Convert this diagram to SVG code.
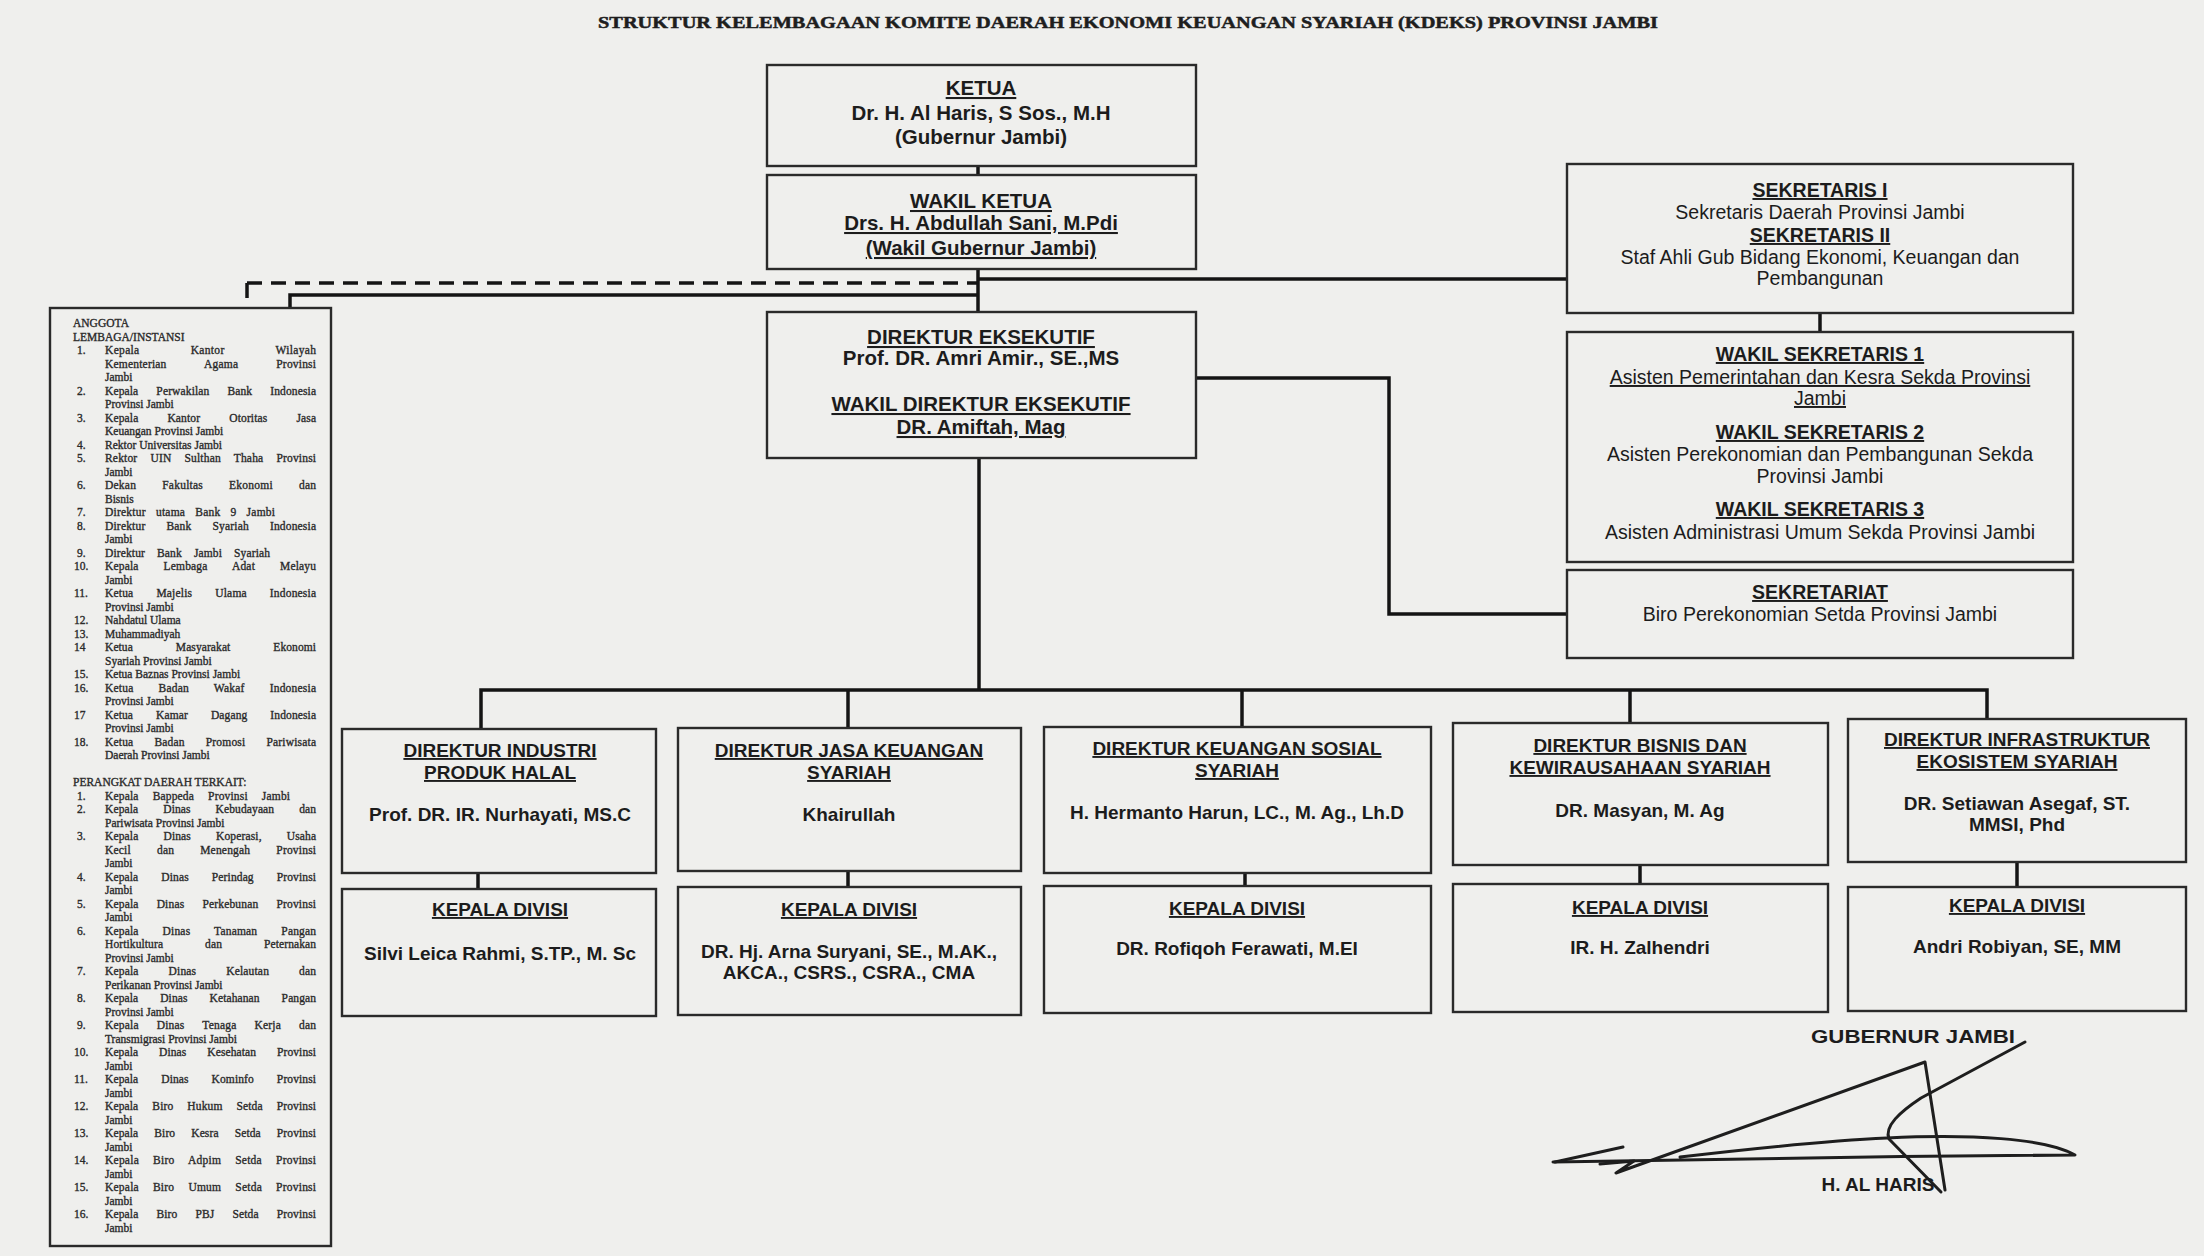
<svg xmlns="http://www.w3.org/2000/svg" width="2204" height="1256" viewBox="0 0 2204 1256">
<style>
.bx{fill:none;stroke:#2a2a2a;stroke-width:2.4}
.ln{fill:none;stroke:#141414;stroke-width:3.5}
.t{font-family:"Liberation Sans",Arial,sans-serif;fill:#1c1c1c;text-anchor:middle}
.hb{font-size:20.5px;font-weight:bold}
.r{font-size:19.5px}
.rb{font-size:19.5px;font-weight:bold}
.d{font-size:19px;font-weight:bold}
.u{text-decoration:underline}
.l{font-family:"Liberation Serif","Times New Roman",serif;font-size:11.5px;fill:#222;stroke:#333;stroke-width:0.35}
.title{font-family:"Liberation Serif","Times New Roman",serif;font-size:16.5px;font-weight:bold;fill:#1e1e1e;stroke:#1e1e1e;stroke-width:0.5}
.sig{fill:none;stroke:#1e1e1e;stroke-width:3;stroke-linecap:round;stroke-linejoin:round}
</style>
<rect x="0" y="0" width="2204" height="1256" fill="#efefed"/>
<text class="title" x="598" y="28" textLength="1060" lengthAdjust="spacingAndGlyphs">STRUKTUR KELEMBAGAAN KOMITE DAERAH EKONOMI KEUANGAN SYARIAH (KDEKS) PROVINSI JAMBI</text>

<g id="connectors">
<path class="ln" d="M978,166 V175"/>
<path class="ln" d="M978,269 V312"/>
<path class="ln" d="M247,283 H978" stroke-dasharray="15 9"/>
<path class="ln" d="M247,283 V298"/>
<path class="ln" d="M290,308 V295 H978"/>
<path class="ln" d="M978,279 H1567"/>
<path class="ln" d="M1196,378 H1389 V614 H1567"/>
<path class="ln" d="M1820,313 V332"/>
<path class="ln" d="M979,458 V690"/>
<path class="ln" d="M481,729 V690 H1987 V719"/>
<path class="ln" d="M848,690 V728"/>
<path class="ln" d="M1242,690 V727"/>
<path class="ln" d="M1630,690 V723"/>
<path class="ln" d="M478,873 V889"/>
<path class="ln" d="M848,871 V887"/>
<path class="ln" d="M1245,873 V886"/>
<path class="ln" d="M1640,865 V884"/>
<path class="ln" d="M2017,862 V887"/>
</g>

<g id="ketua">
<rect class="bx" x="767" y="65" width="429" height="101"/>
<text class="t hb u" x="981" y="95">KETUA</text>
<text class="t hb" x="981" y="120">Dr. H. Al Haris, S Sos., M.H</text>
<text class="t hb" x="981" y="144">(Gubernur Jambi)</text>
</g>

<g id="wakil-ketua">
<rect class="bx" x="767" y="175" width="429" height="94"/>
<text class="t hb u" x="981" y="208">WAKIL KETUA</text>
<text class="t hb u" x="981" y="230">Drs. H. Abdullah Sani, M.Pdi</text>
<text class="t hb u" x="981" y="255">(Wakil Gubernur Jambi)</text>
</g>

<g id="direktur-eksekutif">
<rect class="bx" x="767" y="312" width="429" height="146"/>
<text class="t hb u" x="981" y="344">DIREKTUR EKSEKUTIF</text>
<text class="t hb" x="981" y="365">Prof. DR. Amri Amir., SE.,MS</text>
<text class="t hb u" x="981" y="411">WAKIL DIREKTUR EKSEKUTIF</text>
<text class="t hb u" x="981" y="434">DR. Amiftah, Mag</text>
</g>

<g id="sekretaris">
<rect class="bx" x="1567" y="164" width="506" height="149"/>
<text class="t rb u" x="1820" y="197">SEKRETARIS I</text>
<text class="t r" x="1820" y="219">Sekretaris Daerah Provinsi Jambi</text>
<text class="t rb u" x="1820" y="242">SEKRETARIS II</text>
<text class="t r" x="1820" y="264">Staf Ahli Gub Bidang Ekonomi, Keuangan dan</text>
<text class="t r" x="1820" y="285">Pembangunan</text>
</g>

<g id="wakil-sekretaris">
<rect class="bx" x="1567" y="332" width="506" height="230"/>
<text class="t rb u" x="1820" y="361">WAKIL SEKRETARIS 1</text>
<text class="t r u" x="1820" y="384">Asisten Pemerintahan dan Kesra Sekda Provinsi</text>
<text class="t r u" x="1820" y="405">Jambi</text>
<text class="t rb u" x="1820" y="439">WAKIL SEKRETARIS 2</text>
<text class="t r" x="1820" y="461">Asisten Perekonomian dan Pembangunan Sekda</text>
<text class="t r" x="1820" y="483">Provinsi Jambi</text>
<text class="t rb u" x="1820" y="516">WAKIL SEKRETARIS 3</text>
<text class="t r" x="1820" y="539">Asisten Administrasi Umum Sekda Provinsi Jambi</text>
</g>

<g id="sekretariat">
<rect class="bx" x="1567" y="570" width="506" height="88"/>
<text class="t rb u" x="1820" y="599">SEKRETARIAT</text>
<text class="t r" x="1820" y="621">Biro Perekonomian Setda Provinsi Jambi</text>
</g>

<g id="dir-industri">
<rect class="bx" x="342" y="729" width="314" height="144"/>
<text class="t d u" x="500" y="757">DIREKTUR INDUSTRI</text>
<text class="t d u" x="500" y="779">PRODUK HALAL</text>
<text class="t d" x="500" y="821">Prof. DR. IR. Nurhayati, MS.C</text>
</g>
<g id="kadiv-industri">
<rect class="bx" x="342" y="889" width="314" height="127"/>
<text class="t d u" x="500" y="916">KEPALA DIVISI</text>
<text class="t d" x="500" y="960">Silvi Leica Rahmi, S.TP., M. Sc</text>
</g>

<g id="dir-jasa">
<rect class="bx" x="678" y="728" width="343" height="143"/>
<text class="t d u" x="849" y="757">DIREKTUR JASA KEUANGAN</text>
<text class="t d u" x="849" y="779">SYARIAH</text>
<text class="t d" x="849" y="821">Khairullah</text>
</g>
<g id="kadiv-jasa">
<rect class="bx" x="678" y="887" width="343" height="128"/>
<text class="t d u" x="849" y="916">KEPALA DIVISI</text>
<text class="t d" x="849" y="958">DR. Hj. Arna Suryani, SE., M.AK.,</text>
<text class="t d" x="849" y="979">AKCA., CSRS., CSRA., CMA</text>
</g>

<g id="dir-sosial">
<rect class="bx" x="1044" y="727" width="387" height="146"/>
<text class="t d u" x="1237" y="755">DIREKTUR KEUANGAN SOSIAL</text>
<text class="t d u" x="1237" y="777">SYARIAH</text>
<text class="t d" x="1237" y="819">H. Hermanto Harun, LC., M. Ag., Lh.D</text>
</g>
<g id="kadiv-sosial">
<rect class="bx" x="1044" y="886" width="387" height="127"/>
<text class="t d u" x="1237" y="915">KEPALA DIVISI</text>
<text class="t d" x="1237" y="955">DR. Rofiqoh Ferawati, M.EI</text>
</g>

<g id="dir-bisnis">
<rect class="bx" x="1453" y="723" width="375" height="142"/>
<text class="t d u" x="1640" y="752">DIREKTUR BISNIS DAN</text>
<text class="t d u" x="1640" y="774">KEWIRAUSAHAAN SYARIAH</text>
<text class="t d" x="1640" y="817">DR. Masyan, M. Ag</text>
</g>
<g id="kadiv-bisnis">
<rect class="bx" x="1453" y="884" width="375" height="128"/>
<text class="t d u" x="1640" y="914">KEPALA DIVISI</text>
<text class="t d" x="1640" y="954">IR. H. Zalhendri</text>
</g>

<g id="dir-infrastruktur">
<rect class="bx" x="1848" y="719" width="338" height="143"/>
<text class="t d u" x="2017" y="746">DIREKTUR INFRASTRUKTUR</text>
<text class="t d u" x="2017" y="768">EKOSISTEM SYARIAH</text>
<text class="t d" x="2017" y="810">DR. Setiawan Asegaf, ST.</text>
<text class="t d" x="2017" y="831">MMSI, Phd</text>
</g>
<g id="kadiv-infrastruktur">
<rect class="bx" x="1848" y="887" width="338" height="124"/>
<text class="t d u" x="2017" y="912">KEPALA DIVISI</text>
<text class="t d" x="2017" y="953">Andri Robiyan, SE, MM</text>
</g>

<g id="anggota">
<rect class="bx" x="50" y="308" width="281" height="938"/>
<text class="l" x="73" y="327">ANGGOTA</text>
<text class="l" x="73" y="340.5">LEMBAGA/INSTANSI</text>
<text class="l" x="77" y="354">1.</text><text class="l" x="105" y="354" textLength="211" lengthAdjust="spacing" style="word-spacing:48px">Kepala Kantor Wilayah</text>
<text class="l" x="105" y="367.5" textLength="211" lengthAdjust="spacing" style="word-spacing:35px">Kementerian Agama Provinsi</text>
<text class="l" x="105" y="381">Jambi</text>
<text class="l" x="77" y="394.5">2.</text><text class="l" x="105" y="394.5" textLength="211" lengthAdjust="spacing" style="word-spacing:15px">Kepala Perwakilan Bank Indonesia</text>
<text class="l" x="105" y="408">Provinsi Jambi</text>
<text class="l" x="77" y="421.5">3.</text><text class="l" x="105" y="421.5" textLength="211" lengthAdjust="spacing" style="word-spacing:26px">Kepala Kantor Otoritas Jasa</text>
<text class="l" x="105" y="435">Keuangan Provinsi Jambi</text>
<text class="l" x="77" y="448.5">4.</text><text class="l" x="105" y="448.5">Rektor Universitas Jambi</text>
<text class="l" x="77" y="462">5.</text><text class="l" x="105" y="462" textLength="211" lengthAdjust="spacing" style="word-spacing:10px">Rektor UIN Sulthan Thaha Provinsi</text>
<text class="l" x="105" y="475.5">Jambi</text>
<text class="l" x="77" y="489">6.</text><text class="l" x="105" y="489" textLength="211" lengthAdjust="spacing" style="word-spacing:23px">Dekan Fakultas Ekonomi dan</text>
<text class="l" x="105" y="502.5">Bisnis</text>
<text class="l" x="77" y="516">7.</text><text class="l" x="105" y="516" textLength="170" lengthAdjust="spacing" style="word-spacing:7px">Direktur utama Bank 9 Jambi</text>
<text class="l" x="77" y="529.5">8.</text><text class="l" x="105" y="529.5" textLength="211" lengthAdjust="spacing" style="word-spacing:18px">Direktur Bank Syariah Indonesia</text>
<text class="l" x="105" y="543">Jambi</text>
<text class="l" x="77" y="556.5">9.</text><text class="l" x="105" y="556.5" textLength="165" lengthAdjust="spacing" style="word-spacing:9px">Direktur Bank Jambi Syariah</text>
<text class="l" x="74" y="570">10.</text><text class="l" x="105" y="570" textLength="211" lengthAdjust="spacing" style="word-spacing:22px">Kepala Lembaga Adat Melayu</text>
<text class="l" x="105" y="583.5">Jambi</text>
<text class="l" x="74" y="597">11.</text><text class="l" x="105" y="597" textLength="211" lengthAdjust="spacing" style="word-spacing:20px">Ketua Majelis Ulama Indonesia</text>
<text class="l" x="105" y="610.5">Provinsi Jambi</text>
<text class="l" x="74" y="624">12.</text><text class="l" x="105" y="624">Nahdatul Ulama</text>
<text class="l" x="74" y="637.5">13.</text><text class="l" x="105" y="637.5">Muhammadiyah</text>
<text class="l" x="74" y="651">14</text><text class="l" x="105" y="651" textLength="211" lengthAdjust="spacing" style="word-spacing:40px">Ketua Masyarakat Ekonomi</text>
<text class="l" x="105" y="664.5">Syariah Provinsi Jambi</text>
<text class="l" x="74" y="678">15.</text><text class="l" x="105" y="678">Ketua Baznas Provinsi Jambi</text>
<text class="l" x="74" y="691.5">16.</text><text class="l" x="105" y="691.5" textLength="211" lengthAdjust="spacing" style="word-spacing:22px">Ketua Badan Wakaf Indonesia</text>
<text class="l" x="105" y="705">Provinsi Jambi</text>
<text class="l" x="74" y="718.5">17</text><text class="l" x="105" y="718.5" textLength="211" lengthAdjust="spacing" style="word-spacing:20px">Ketua Kamar Dagang Indonesia</text>
<text class="l" x="105" y="732">Provinsi Jambi</text>
<text class="l" x="74" y="745.5">18.</text><text class="l" x="105" y="745.5" textLength="211" lengthAdjust="spacing" style="word-spacing:18px">Ketua Badan Promosi Pariwisata</text>
<text class="l" x="105" y="759">Daerah Provinsi Jambi</text>
<text class="l" x="73" y="786">PERANGKAT DAERAH TERKAIT:</text>
<text class="l" x="77" y="799.5">1.</text><text class="l" x="105" y="799.5" textLength="185" lengthAdjust="spacing" style="word-spacing:11px">Kepala Bappeda Provinsi Jambi</text>
<text class="l" x="77" y="813">2.</text><text class="l" x="105" y="813" textLength="211" lengthAdjust="spacing" style="word-spacing:22px">Kepala Dinas Kebudayaan dan</text>
<text class="l" x="105" y="826.5">Pariwisata Provinsi Jambi</text>
<text class="l" x="77" y="840">3.</text><text class="l" x="105" y="840" textLength="211" lengthAdjust="spacing" style="word-spacing:22px">Kepala Dinas Koperasi, Usaha</text>
<text class="l" x="105" y="853.5" textLength="211" lengthAdjust="spacing" style="word-spacing:23px">Kecil dan Menengah Provinsi</text>
<text class="l" x="105" y="867">Jambi</text>
<text class="l" x="77" y="880.5">4.</text><text class="l" x="105" y="880.5" textLength="211" lengthAdjust="spacing" style="word-spacing:20px">Kepala Dinas Perindag Provinsi</text>
<text class="l" x="105" y="894">Jambi</text>
<text class="l" x="77" y="907.5">5.</text><text class="l" x="105" y="907.5" textLength="211" lengthAdjust="spacing" style="word-spacing:15px">Kepala Dinas Perkebunan Provinsi</text>
<text class="l" x="105" y="921">Jambi</text>
<text class="l" x="77" y="934.5">6.</text><text class="l" x="105" y="934.5" textLength="211" lengthAdjust="spacing" style="word-spacing:21px">Kepala Dinas Tanaman Pangan</text>
<text class="l" x="105" y="948" textLength="211" lengthAdjust="spacing" style="word-spacing:39px">Hortikultura dan Peternakan</text>
<text class="l" x="105" y="961.5">Provinsi Jambi</text>
<text class="l" x="77" y="975">7.</text><text class="l" x="105" y="975" textLength="211" lengthAdjust="spacing" style="word-spacing:27px">Kepala Dinas Kelautan dan</text>
<text class="l" x="105" y="988.5">Perikanan Provinsi Jambi</text>
<text class="l" x="77" y="1002">8.</text><text class="l" x="105" y="1002" textLength="211" lengthAdjust="spacing" style="word-spacing:19px">Kepala Dinas Ketahanan Pangan</text>
<text class="l" x="105" y="1015.5">Provinsi Jambi</text>
<text class="l" x="77" y="1029">9.</text><text class="l" x="105" y="1029" textLength="211" lengthAdjust="spacing" style="word-spacing:15px">Kepala Dinas Tenaga Kerja dan</text>
<text class="l" x="105" y="1042.5">Transmigrasi Provinsi Jambi</text>
<text class="l" x="74" y="1056">10.</text><text class="l" x="105" y="1056" textLength="211" lengthAdjust="spacing" style="word-spacing:18px">Kepala Dinas Kesehatan Provinsi</text>
<text class="l" x="105" y="1069.5">Jambi</text>
<text class="l" x="74" y="1083">11.</text><text class="l" x="105" y="1083" textLength="211" lengthAdjust="spacing" style="word-spacing:20px">Kepala Dinas Kominfo Provinsi</text>
<text class="l" x="105" y="1096.5">Jambi</text>
<text class="l" x="74" y="1110">12.</text><text class="l" x="105" y="1110" textLength="211" lengthAdjust="spacing" style="word-spacing:11px">Kepala Biro Hukum Setda Provinsi</text>
<text class="l" x="105" y="1123.5">Jambi</text>
<text class="l" x="74" y="1137">13.</text><text class="l" x="105" y="1137" textLength="211" lengthAdjust="spacing" style="word-spacing:13px">Kepala Biro Kesra Setda Provinsi</text>
<text class="l" x="105" y="1150.5">Jambi</text>
<text class="l" x="74" y="1164">14.</text><text class="l" x="105" y="1164" textLength="211" lengthAdjust="spacing" style="word-spacing:11px">Kepala Biro Adpim Setda Provinsi</text>
<text class="l" x="105" y="1177.5">Jambi</text>
<text class="l" x="74" y="1191">15.</text><text class="l" x="105" y="1191" textLength="211" lengthAdjust="spacing" style="word-spacing:11px">Kepala Biro Umum Setda Provinsi</text>
<text class="l" x="105" y="1204.5">Jambi</text>
<text class="l" x="74" y="1218">16.</text><text class="l" x="105" y="1218" textLength="211" lengthAdjust="spacing" style="word-spacing:15px">Kepala Biro PBJ Setda Provinsi</text>
<text class="l" x="105" y="1231.5">Jambi</text>
</g>

<g id="pengesahan">
<text class="t d" x="1913" y="1043" textLength="204" lengthAdjust="spacingAndGlyphs">GUBERNUR JAMBI</text>
<path class="sig" d="M1553,1162 C1700,1159 1900,1156 2075,1155 C2045,1138 1970,1134 1887,1138 C1820,1141 1740,1150 1680,1157"/>
<path class="sig" d="M1623,1147 L1555,1162 M1600,1164 L1634,1161 L1616,1173 L1925,1062 L1945,1190"/>
<path class="sig" d="M2025,1042 L1921,1098 C1900,1112 1884,1126 1889,1139 L1941,1192"/>
<text class="t d" x="1878" y="1191">H. AL HARIS</text>
</g>
</svg>
